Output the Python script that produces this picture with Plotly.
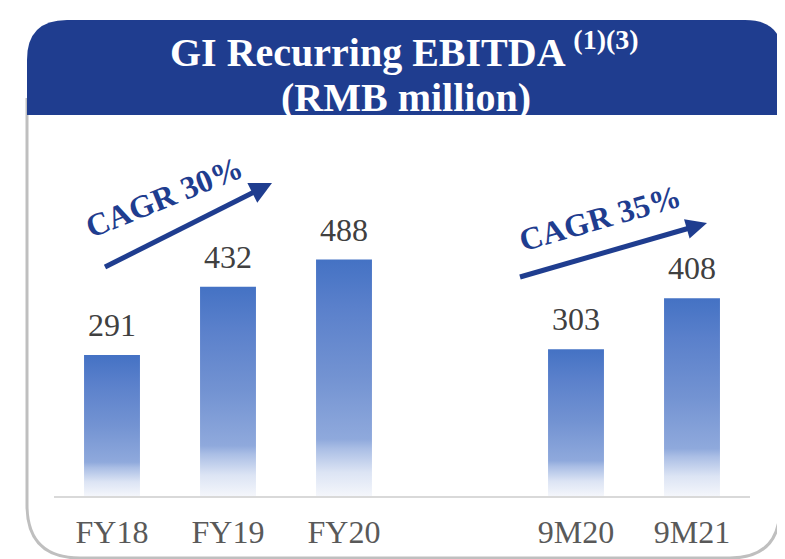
import math
import plotly.graph_objects as go

# ---- data ----
categories = ["FY18", "FY19", "FY20", "9M20", "9M21"]
positions = [0, 1, 2, 4, 5]          # slot 3 left empty as a gap
values = [291, 432, 488, 303, 408]
cagr_labels = ["CAGR 30%", "CAGR 35%"]

# the page body has an 8px margin, so the figure is offset by 8px in the window
OFF = 8
W, H = 785 - OFF, 559 - OFF
SERIF = "Liberation Serif"
NAVY = "#1F3D8F"


def X(px):
    return (px - OFF) / W


def Y(py):
    return 1 - (py - OFF) / H


fig = go.Figure()

half = 0.241
grad = [[0.0, "#F4F6FB"], [0.1, "#DCE4F4"], [0.2, "#AABEE5"], [0.24, "#8FA9DC"],
        [0.5, "#7393D2"], [0.8, "#5A80CB"], [1.0, "#4472C4"]]
for p, v in zip(positions, values):
    fig.add_trace(go.Scatter(
        x=[p - half, p + half, p + half, p - half, p - half],
        y=[0, 0, v, v, 0],
        mode="lines", fill="toself",
        line=dict(width=0, color="rgba(0,0,0,0)"),
        fillgradient=dict(type="vertical", colorscale=grad),
        hoverinfo="skip", showlegend=False,
    ))

annotations = []
for p, v in zip(positions, values):
    annotations.append(dict(
        x=p, y=v, xref="x", yref="y", text=str(v), showarrow=False,
        xanchor="center", yanchor="middle", yshift=30,
        font=dict(family=SERIF, size=32, color="#404040"),
    ))

# title
annotations.append(dict(
    x=X(404), y=Y(50), xref="paper", yref="paper",
    text="<b>GI Recurring EBITDA <sup>(1)(3)</sup></b>", showarrow=False,
    xanchor="center", yanchor="middle",
    font=dict(family=SERIF, size=40, color="white"),
))
annotations.append(dict(
    x=X(406), y=Y(97), xref="paper", yref="paper",
    text="<b>(RMB million)</b>", showarrow=False,
    xanchor="center", yanchor="middle",
    font=dict(family=SERIF, size=40, color="white"),
))

# CAGR labels
for txt, (cx, cy), ang in zip(cagr_labels, [(164, 197), (600, 218.5)], [-22, -16]):
    annotations.append(dict(
        x=X(cx), y=Y(cy), xref="paper", yref="paper", text="<b>%s</b>" % txt,
        showarrow=False, xanchor="center", yanchor="middle", textangle=ang,
        font=dict(family=SERIF, size=32, color=NAVY),
    ))

shapes = []
# card outline
card = ("M {},{} L {},{} Q {},{} {},{} L {},{} Q {},{} {},{} L {},{}").format(
    X(27), Y(98), X(27), Y(505), X(27), Y(558), X(80), Y(558),
    X(730), Y(558), X(780), Y(558), X(780), Y(507), X(780), Y(98))
shapes.append(dict(type="path", xref="paper", yref="paper", path=card,
                   line=dict(color="#BFBFBF", width=3)))
# header
hdr = ("M {},{} L {},{} Q {},{} {},{} L {},{} Q {},{} {},{} L {},{} Z").format(
    X(27), Y(115), X(27), Y(60), X(27), Y(20), X(67), Y(20),
    X(745), Y(20), X(783), Y(20), X(783), Y(58), X(783), Y(115))
shapes.append(dict(type="path", xref="paper", yref="paper", path=hdr,
                   fillcolor=NAVY, line=dict(width=0)))


# arrows
def arrow(tail, tip, L=22, hw=11, w=5):
    dx, dy = tip[0] - tail[0], tip[1] - tail[1]
    d = math.hypot(dx, dy)
    ux, uy = dx / d, dy / d
    nx, ny = -uy, ux
    bx, by = tip[0] - L * ux, tip[1] - L * uy
    out = [dict(type="line", xref="paper", yref="paper",
                x0=X(tail[0]), y0=Y(tail[1]), x1=X(bx + 2 * ux), y1=Y(by + 2 * uy),
                line=dict(color=NAVY, width=w))]
    path = "M {},{} L {},{} L {},{} Z".format(
        X(tip[0]), Y(tip[1]), X(bx + hw * nx), Y(by + hw * ny), X(bx - hw * nx), Y(by - hw * ny))
    out.append(dict(type="path", xref="paper", yref="paper", path=path,
                    fillcolor=NAVY, line=dict(width=0)))
    return out


shapes += arrow((105, 267), (272, 183))
shapes += arrow((520, 277), (707, 223), L=21, hw=10)

fig.update_layout(
    width=W, height=H, autosize=False,
    margin=dict(l=0, r=0, t=0, b=0),
    paper_bgcolor="white", plot_bgcolor="white",
    showlegend=False,
    xaxis=dict(range=[-0.5, 5.5], domain=[X(54), X(750)],
               tickmode="array", tickvals=positions, ticktext=categories,
               showgrid=False, zeroline=False, showline=True,
               linecolor="#D9D9D9", linewidth=2, ticks="",
               ticklabelstandoff=7,
               tickfont=dict(family=SERIF, size=32, color="#595959"),
               fixedrange=True),
    yaxis=dict(range=[0, 714], domain=[Y(496), Y(150)],
               visible=False, fixedrange=True),
    annotations=annotations,
    shapes=shapes,
)

fig.write_html("out.html")
